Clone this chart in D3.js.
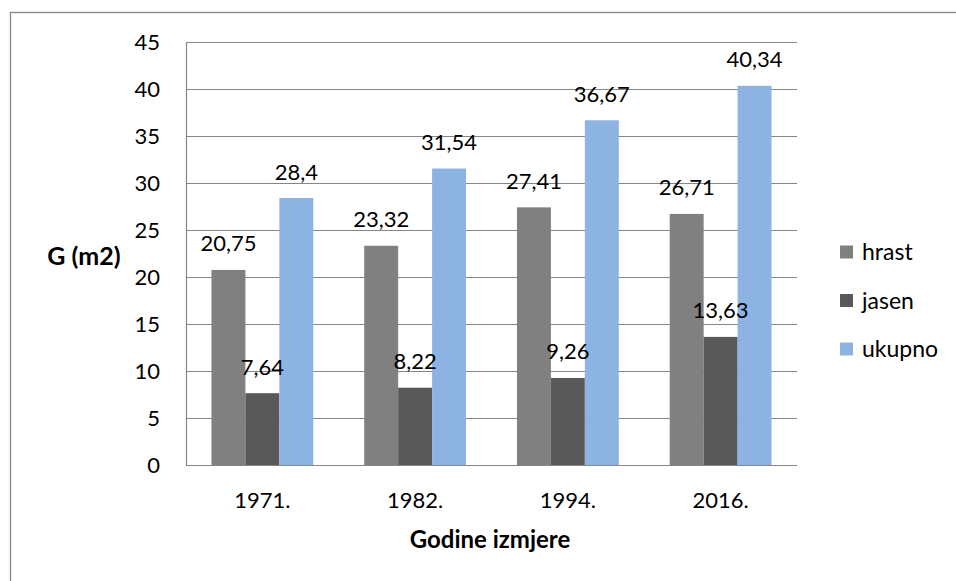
<html>
<head>
<meta charset="utf-8">
<style>
  body { margin: 0; background: #fff; }
  text { font-family: Lato, "Open Sans", sans-serif; fill: #000; }
</style>
<script src="https://d3js.org/d3.v7.min.js"></script>
</head>
<body>
<div id="chart"></div>
<script>
// data
var godine = ["1971.", "1982.", "1994.", "2016."];
var serije = ["hrast", "jasen", "ukupno"];
var hrast = [20.75, 23.32, 27.41, 26.71];
var jasen = [7.64, 8.22, 9.26, 13.63];
var ukupno = [28.4, 31.54, 36.67, 40.34];
var yTicks = [0, 5, 10, 15, 20, 25, 30, 35, 40, 45];
var boje = ["#808080", "#595959", "#8db3e2"];

var values = [hrast, jasen, ukupno];

var svg = d3.select("#chart").append("svg")
    .attr("width", 956).attr("height", 581);

// outer frame (right and bottom fall outside the picture)
svg.append("rect").attr("x", 10.5).attr("y", 12.5)
   .attr("width", 1000).attr("height", 1000)
   .attr("fill", "none").attr("stroke", "#868686").attr("stroke-width", 1.3);

var pLeft = 186, pRight = 797, pTop = 42, pBottom = 465;

var x = d3.scaleBand().domain(godine).range([pLeft, pRight]).paddingInner(1/3).paddingOuter(1/6);
var xs = d3.scaleBand().domain(serije).range([0, x.bandwidth()]);
var y = d3.scaleLinear().domain([0, 45]).range([pBottom, pTop]);

// grid
svg.append("g").selectAll("line").data(yTicks).enter().append("line")
   .attr("x1", pLeft).attr("x2", pRight)
   .attr("y1", function(d) { return Math.round(y(d)) + 0.5; })
   .attr("y2", function(d) { return Math.round(y(d)) + 0.5; })
   .attr("stroke", "#868686").attr("stroke-width", 1.2);
svg.append("line").attr("x1", pLeft + 0.5).attr("x2", pLeft + 0.5)
   .attr("y1", pTop).attr("y2", pBottom + 1)
   .attr("stroke", "#868686").attr("stroke-width", 1.2);

// y tick labels
svg.append("g").selectAll("text").data(yTicks).enter().append("text")
   .attr("x", 160).attr("y", function(d) { return y(d); })
   .attr("dy", "0.35em").attr("text-anchor", "end")
   .style("font-size", "22px").text(function(d) { return d; });

// bars first, then all value labels on top
var barLayer = svg.append("g");
var labelLayer = svg.append("g");
serije.forEach(function(s, si) {
  barLayer.append("g").selectAll("rect").data(values[si]).enter().append("rect")
   .attr("x", function(d, i) { return x(godine[i]) + xs(s); })
   .attr("width", xs.bandwidth())
   .attr("y", function(d) { return y(d); })
   .attr("height", function(d) { return y(0) - y(d); })
   .attr("fill", boje[si]);
  labelLayer.append("g").selectAll("text").data(values[si]).enter().append("text")
   .attr("x", function(d, i) { return x(godine[i]) + xs(s) + xs.bandwidth() / 2; })
   .attr("y", function(d) { return y(d) - 18.5; })
   .attr("text-anchor", "middle")
   .style("font-size", "22px")
   .text(function(d) { return String(d).replace(".", ","); });
});

// x tick labels
svg.append("g").selectAll("text").data(godine).enter().append("text")
   .attr("x", function(d) { return x(d) + x.bandwidth() / 2; })
   .attr("y", 508).attr("text-anchor", "middle")
   .style("font-size", "22px").text(function(d) { return d; });

// axis titles
svg.append("text").attr("x", 490).attr("y", 548).attr("text-anchor", "middle")
   .style("font-size", "24px").style("font-weight", "bold").text("Godine izmjere");
svg.append("text").attr("x", 84).attr("y", 265).attr("text-anchor", "middle")
   .style("font-size", "25px").style("font-weight", "bold").text("G (m2)");

// legend
var leg = svg.append("g").selectAll("g").data(serije).enter().append("g")
   .attr("transform", function(d, i) { return "translate(840," + (252 + i * 48.5) + ")"; });
leg.append("rect").attr("x", 0).attr("y", -6.5).attr("width", 13).attr("height", 13)
   .attr("fill", function(d, i) { return boje[i]; });
leg.append("text").attr("x", 22).attr("y", 0).attr("dy", "0.35em")
   .style("font-size", "23px").text(function(d) { return d; });
</script>
</body>
</html>
